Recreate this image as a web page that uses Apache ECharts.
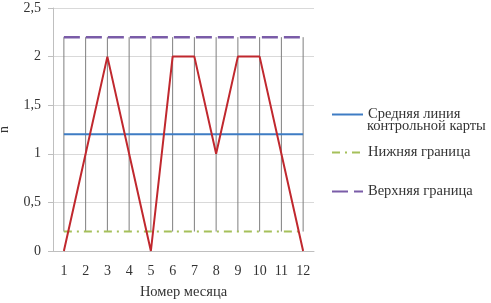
<!DOCTYPE html>
<html><head><meta charset="utf-8">
<script src="https://cdn.jsdelivr.net/npm/echarts@6/dist/echarts.min.js"></script>
<style>html,body{margin:0;padding:0;background:#fff}#c{width:491px;height:303px}</style>
</head><body><div id="c"></div>
<script>
const months = ['1','2','3','4','5','6','7','8','9','10','11','12'];
const values = [0,1,2,1,0,2,2,1,2,2,1,0];
const centerLine = [1.2,1.2,1.2,1.2,1.2,1.2,1.2,1.2,1.2,1.2,1.2,1.2];
const lowerBound = [0.2,0.2,0.2,0.2,0.2,0.2,0.2,0.2,0.2,0.2,0.2,0.2];
const upperBound = [2.2,2.2,2.2,2.2,2.2,2.2,2.2,2.2,2.2,2.2,2.2,2.2];
const yTicks = [0,0.5,1,1.5,2,2.5];
const names = ['Средняя линия\nконтрольной карты','Нижняя граница','Верхняя граница'];

const font = 'Liberation Serif';
const chart = echarts.init(document.getElementById('c'));
const legendCommon = {orient:'vertical', left:326, itemWidth:31, itemHeight:10, itemGap:0,
  itemStyle:{opacity:0},
  formatter:n=>n.split('\n')[0],
  textStyle:{fontFamily:font, fontSize:14.5, color:'#333', lineHeight:17}};
chart.setOption({
  animation:false,
  grid:{left:53,right:177,top:8,bottom:52, outerBoundsMode:'none', containLabel:false},
  legend:[
    Object.assign({top:101, data:[names[0]]}, legendCommon),
    Object.assign({top:139, data:[names[1]]}, legendCommon),
    Object.assign({top:178, data:[names[2]]}, legendCommon)
  ],
  graphic:[{type:'text', left:367, top:119,
    style:{text:names[0].split('\n')[1], font:'14.5px "Liberation Serif"', fill:'#333'}}],
  xAxis:{type:'category', data:months, boundaryGap:true,
    name:'Номер месяца', nameLocation:'middle', nameGap:34,
    nameTextStyle:{fontFamily:font, fontSize:14.5, color:'#333'},
    axisLine:{show:true, lineStyle:{color:'#bfbfbf'}},
    axisTick:{show:false},
    axisLabel:{fontFamily:font, fontSize:14, color:'#333', margin:13}},
  yAxis:{type:'value', min:yTicks[0], max:yTicks[yTicks.length-1], interval:0.5,
    name:'n', nameLocation:'middle', nameGap:42, nameRotate:90,
    nameTextStyle:{fontFamily:font, fontSize:14, color:'#333'},
    axisLine:{show:true, lineStyle:{color:'#bfbfbf'}},
    axisTick:{show:true, length:5, lineStyle:{color:'#bfbfbf'}},
    splitLine:{lineStyle:{color:'#d9d9d9'}},
    axisLabel:{fontFamily:font, fontSize:14, color:'#333', margin:12,
      formatter:v=>String(v).replace('.',',')}},
  series:[
    {type:'custom', name:'hl', silent:true, z:1,
     data:months.map((m,i)=>[i, lowerBound[i], upperBound[i]]),
     renderItem:(params, api)=>{
       const a = api.coord([api.value(0), api.value(1)]);
       const b = api.coord([api.value(0), api.value(2)]);
       return {type:'line', shape:{x1:a[0],y1:a[1],x2:b[0],y2:b[1]},
         style:{stroke:'#7f7f7f', lineWidth:1}};
     }},
    {type:'line', name:names[0], data:centerLine, symbol:'none', z:3,
     lineStyle:{color:'#3e7cc4', width:2}, itemStyle:{color:'#3e7cc4'}},
    {type:'line', name:names[1], data:lowerBound, symbol:'none', z:3,
     lineStyle:{color:'#a5c05a', width:2, type:[8,5,2,5]}, itemStyle:{color:'#a5c05a'}},
    {type:'line', name:names[2], data:upperBound, symbol:'none', z:3,
     lineStyle:{color:'#7a5ca8', width:2.5, type:[16,6]}, itemStyle:{color:'#7a5ca8'}},
    {type:'line', name:'n', data:values, symbol:'none', z:4,
     lineStyle:{color:'#c0282e', width:2}, itemStyle:{color:'#c0282e'}}
  ]
});
</script></body></html>
